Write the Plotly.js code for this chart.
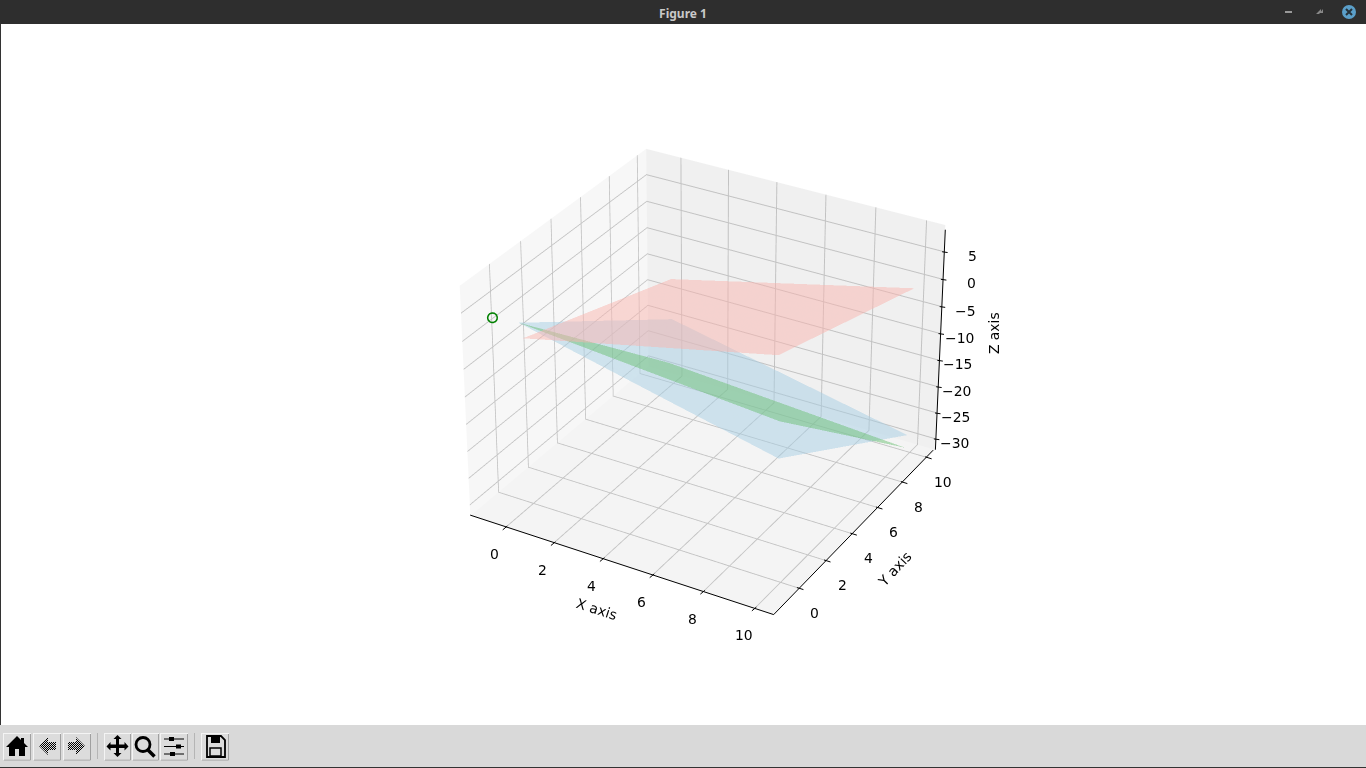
<!DOCTYPE html>
<html><head><meta charset="utf-8">
<script src="https://cdn.plot.ly/plotly-3.0.1.min.js"></script>
<style>
html,body{margin:0;padding:0;width:1366px;height:768px;overflow:hidden;background:#fff}
#win{position:absolute;left:0;top:0;width:1366px;height:768px;overflow:hidden}
#plotclip{position:absolute;left:1px;top:24px;width:1365px;height:701px;overflow:hidden;background:#fff}
#plot{position:absolute;left:-554.5px;top:-913.5px;width:2520px;height:2520px}
#bar{position:absolute;left:0;top:0;width:1366px;height:24px;background:#2e2e2e;color:#c9c9c9;font:bold 12px "Noto Sans",sans-serif;text-align:center;line-height:27px}
#edge{position:absolute;left:0;top:24px;width:1px;height:744px;background:#333}
#tools{position:absolute;left:0;top:725px;width:1366px;height:43px;background:#d9d9d9;border-bottom:1px solid #333;box-sizing:border-box}
</style></head><body>
<div id="win">
<div id="plotclip"><div id="plot"></div></div>
<div id="bar">Figure 1</div>
<svg style="position:absolute;left:1270px;top:0" width="96" height="24">
<rect x="15" y="11" width="7" height="2" fill="#999"/>
<path d="M46 14l5-5v3l-2 2h-3zM53 9v4h-3z" fill="#888"/>
<circle cx="79" cy="12" r="7" fill="#5b9fc9"/>
<path d="M76 9l6 6M82 9l-6 6" stroke="#26323a" stroke-width="2"/>
</svg>
<div id="edge"></div>
<div id="tools">
<svg width="240" height="42" style="position:absolute;left:0;top:0">
<defs>
<pattern id="dith" width="2" height="2" patternUnits="userSpaceOnUse"><rect width="1" height="1" fill="#000"/><rect x="1" y="1" width="1" height="1" fill="#000"/></pattern>
</defs>
<g fill="#dcdcdc" stroke="#f4f4f4">
<rect x="3.5" y="8.5" width="27" height="26"/><rect x="33.5" y="8.5" width="27" height="26"/><rect x="63.5" y="8.5" width="27" height="26"/>
<rect x="104.5" y="8.5" width="26" height="26"/><rect x="132.5" y="8.5" width="26" height="26"/><rect x="160.5" y="8.5" width="27" height="26"/><rect x="201.5" y="8.5" width="27" height="26"/>
</g>
<g stroke="#a0a0a0" fill="none">
<path d="M30.5 9v26H4M60.5 9v26H34M90.5 9v26H64M130.5 9v26H105M158.5 9v26H133M187.5 9v26H161M228.5 9v26H202"/>
<path d="M97.5 8v26M194.5 8v26" stroke="#b5b5b5"/>
</g>
<path d="M17 11L6 22h3v9h6v-7h4v7h6V22h3l-4-4v-5h-3v2z" fill="#000"/>
<path d="M39 21l9-9v5h8v8h-8v5z" fill="url(#dith)"/>
<path d="M85 21l-9-9v5h-8v8h8v5z" fill="url(#dith)"/>
<path d="M117.500 10l4 4h-2.500v5.500H124.500V17l4 4.500-4 4V23H119v5h2.500l-4 4-4-4h2.500v-5H110.500v2.500l-4-4 4-4.500v2.500H116V14h-2.500z" fill="#000"/>
<circle cx="143" cy="19.500" r="7" fill="none" stroke="#000" stroke-width="2.800"/><path d="M148 25l6.500 6.500" stroke="#000" stroke-width="3.500"/>
<path d="M164 14h20M164 21.500h20M164 29h20" stroke="#000" stroke-width="1.200"/><rect x="169" y="12" width="5" height="4" fill="#000"/><rect x="176" y="19.500" width="5" height="4" fill="#000"/><rect x="170" y="27" width="5" height="4" fill="#000"/>
<path d="M207 11h14l4 4v17h-18z" fill="none" stroke="#000" stroke-width="1.800"/><rect x="211" y="12" width="9" height="6" fill="#000"/><rect x="210" y="23" width="11" height="8" fill="none" stroke="#000" stroke-width="1.500"/>
</svg>
</div>
</div>
<script>
const redX = [[0.21, 9.88], [0.15, 10.04]];
const redY = [[-0.62, -0.16], [9.6, 9.76]];
const redZ = [[0.06, 8.57], [-10.72, -0.64]];
const blueX = [[0.05, 9.92], [0.2, 10.03]];
const blueY = [[-0.62, -0.12], [9.57, 9.68]];
const blueZ = [[2.62, -9.43], [-18.3, -27.96]];
const greenX = [[0.05, 9.92], [0.16, 9.98]];
const greenY = [[-0.62, -0.07], [9.38, 9.61]];
const greenZ = [[2.62, -3.0], [-26.45, -30.29]];
const pointX = [-0.7];
const pointY = [-1.12];
const pointZ = [3.65];
const xRange = [-1.48, 10.73];
const yRange = [-1.85, 10.65];
const zRange = [-32.1, 9.8];
const xTicks = [0, 2, 4, 6, 8, 10];
const yTicks = [0, 2, 4, 6, 8, 10];
const zTicks = [-30, -25, -20, -15, -10, -5, 0, 5];

const FONT = {family: '"DejaVu Sans"', size: 13.9, color: '#000'};
const flat = (c, x, y, z) => ({
  type: 'surface', x, y, z, showscale: false, hoverinfo: 'skip',
  colorscale: [[0, c], [1, c]], opacity: 0.5,
  lighting: {ambient: 1, diffuse: 0, specular: 0, roughness: 1, fresnel: 0}
});
const traces = [
  flat('#a6cee3', blueX, blueY, blueZ),
  flat('#6cbf74', greenX, greenY, greenZ),
  flat('#f9b4ae', redX, redY, redZ),
  {type: 'scatter3d', mode: 'markers', x: pointX, y: pointY, z: pointZ, hoverinfo: 'skip',
   marker: {symbol: 'circle-open', size: 6, color: 'green', line: {color: 'green', width: 1}}}
];
const minus = v => String(v).replace('-', '\u2212');
const tick = (x, y, z, ax, ay, xs, ys) => ({x, y, z, text: ' ', showarrow: true, arrowhead: 0, arrowwidth: 1, arrowcolor: '#000', ax, ay, standoff: 0, xshift: xs, yshift: ys, font: {size: 1}});
const ann = [];
ann.push(tick(xRange[1], yRange[0], zRange[0], -305, -100, 0, 0));
ann.push(tick(xRange[1], yRange[0], zRange[0], 161, -166, 0, 0));
ann.push(tick(xRange[1], yRange[1], zRange[0], 10, -222, 0, 0));
xTicks.forEach(v => {
  ann.push({x: v, y: yRange[0], z: zRange[0], text: minus(v), showarrow: false, font: FONT, xshift: -11, yshift: -27});
  ann.push(tick(v, yRange[0], zRange[0], -6, 5, 1.7, 1.3));
});
yTicks.forEach(v => {
  ann.push({x: xRange[1], y: v, z: zRange[0], text: minus(v), showarrow: false, font: FONT, xshift: 15.5, yshift: -24.4});
  ann.push(tick(xRange[1], v, zRange[0], 8, 2.5, -2.5, 0.8));
});
zTicks.forEach(v => {
  ann.push({x: xRange[1], y: yRange[1], z: v, text: minus(v), showarrow: false, font: FONT, xanchor: 'right', xshift: 35, yshift: -4});
  ann.push(tick(xRange[1], yRange[1], v, 7, 1, -2, 0));
});
ann.push({x: 5, y: yRange[0], z: zRange[0], text: 'X axis', textangle: 18, showarrow: false, font: FONT, xshift: -31, yshift: -41.5});
ann.push({x: xRange[1], y: 5, z: zRange[0], text: 'Y axis', textangle: -47, showarrow: false, font: FONT, xshift: 29, yshift: -48.5});
ann.push({x: xRange[1], y: yRange[1], z: -10, text: 'Z axis', textangle: -90, showarrow: false, font: FONT, xshift: 53, yshift: 0});

const axis = (rng, vals, bg) => ({
  range: rng, tickmode: 'array', tickvals: vals, showticklabels: false,
  title: {text: ''}, showbackground: true, backgroundcolor: bg,
  gridcolor: '#c2c2c2', gridwidth: 2, zeroline: false, showspikes: false,
  showline: false, ticks: ''
});
const layout = {
  width: 2520, height: 2520, margin: {l: 0, r: 0, t: 0, b: 0},
  paper_bgcolor: '#fff', showlegend: false,
  scene: {
    domain: {x: [0, 1], y: [0, 1]},
    aspectmode: 'manual', aspectratio: {x: 1, y: 1, z: 0.755},
    camera: {eye: {x: 3.789, y: -6.562, z: 4.375}, center: {x: 0, y: 0, z: 0}, up: {x: 0, y: 0, z: 1},
             projection: {type: 'perspective'}},
    xaxis: axis(xRange, xTicks, '#f7f7f7'),
    yaxis: axis(yRange, yTicks, '#f0f0f0'),
    zaxis: axis(zRange, zTicks, '#f4f4f4'),
    annotations: ann
  }
};
Plotly.newPlot('plot', traces, layout, {displayModeBar: false});
</script>
</body></html>
